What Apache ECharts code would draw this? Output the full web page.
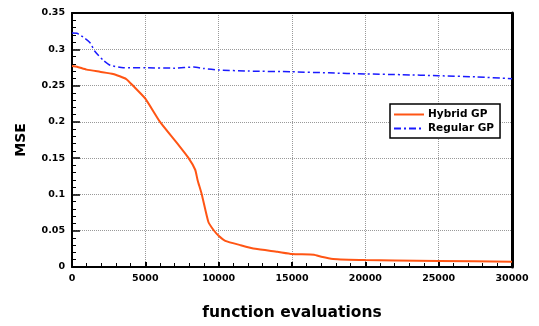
<!DOCTYPE html>
<html>
<head>
<meta charset="utf-8">
<script src="https://cdn.jsdelivr.net/npm/echarts@6/dist/echarts.min.js"></script>
<style>html,body{margin:0;padding:0;background:#fff;}#c{width:539px;height:326px;}</style>
</head>
<body>
<div id="c"></div>
<script>
const hybridX = [0, 340, 1000, 1900, 2800, 3700, 4200, 5000, 6000, 7150, 7950, 8400, 8560, 8850, 9300, 9650, 10000, 10450, 11500, 12500, 14000, 15000, 16500, 17000, 17800, 20000, 22000, 25000, 30000];
const hybridY = [0.277, 0.276, 0.272, 0.269, 0.266, 0.259, 0.249, 0.232, 0.200, 0.171, 0.150, 0.134, 0.120, 0.100, 0.062, 0.051, 0.043, 0.036, 0.030, 0.025, 0.021, 0.018, 0.017, 0.014, 0.011, 0.0095, 0.009, 0.0083, 0.0073];
const regularX = [0, 340, 890, 1230, 1570, 2120, 2600, 3500, 5000, 7000, 8300, 9000, 10000, 12000, 15000, 17500, 20000, 22500, 25000, 27500, 30000];
const regularY = [0.3225, 0.322, 0.315, 0.309, 0.297, 0.285, 0.278, 0.2746, 0.2745, 0.274, 0.2755, 0.2735, 0.2715, 0.270, 0.269, 0.2675, 0.266, 0.265, 0.2636, 0.262, 0.2595];
const xTicks = [0, 5000, 10000, 15000, 20000, 25000, 30000];
const yTicks = [0, 0.05, 0.1, 0.15, 0.2, 0.25, 0.3, 0.35];
const seriesNames = ['Hybrid GP', 'Regular GP'];

const FONT = 'DejaVu Sans';
const chart = echarts.init(document.getElementById('c'), null, {renderer: 'canvas'});
const zip = (xs, ys) => xs.map((x, i) => [x, ys[i]]);

chart.setOption({
  animation: false,
  backgroundColor: '#fff',
  grid: {left: 72, top: 13, width: 440, height: 254, containLabel: false},
  legend: {
    left: 390, top: 104, orient: 'vertical',
    backgroundColor: '#fff', borderColor: '#000', borderWidth: 1.5,
    padding: [5, 6, 4, 3], itemWidth: 30, itemHeight: 8, itemGap: 3,
    itemStyle: {opacity: 0},
    textStyle: {fontFamily: FONT, fontWeight: 'bold', fontSize: 10.5, color: '#000', padding: [0, 0, 0, -1]},
    data: seriesNames
  },
  xAxis: [{
    type: 'value', min: xTicks[0], max: xTicks[xTicks.length - 1], interval: 5000,
    name: 'function evaluations', nameLocation: 'middle', nameGap: 38,
    nameTextStyle: {fontFamily: FONT, fontWeight: 'bold', fontSize: 15.5, color: '#000'},
    axisLine: {lineStyle: {color: '#000', width: 2}},
    axisTick: {inside: true, length: 5, lineStyle: {color: '#000', width: 2}},
    minorTick: {show: true, splitNumber: 5, length: 4, lineStyle: {color: '#000', width: 1}},
    axisLabel: {fontFamily: FONT, fontWeight: 'bold', fontSize: 9.5, color: '#000', margin: 7,
      formatter: v => String(v)},
    splitLine: {show: true, lineStyle: {color: '#999', type: 'dotted', width: 1}}
  }, {
    type: 'value', position: 'top', min: 0, max: 30000,
    axisLine: {show: true, onZero: false, lineStyle: {color: '#000', width: 2}},
    axisTick: {show: false}, axisLabel: {show: false}, splitLine: {show: false}
  }],
  yAxis: [{
    type: 'value', min: yTicks[0], max: yTicks[yTicks.length - 1], interval: 0.05,
    name: 'MSE', nameLocation: 'middle', nameGap: 44, nameRotate: 90,
    nameTextStyle: {fontFamily: FONT, fontWeight: 'bold', fontSize: 14, color: '#000'},
    axisLine: {show: true, lineStyle: {color: '#000', width: 2}},
    axisTick: {show: true, inside: true, length: 8, lineStyle: {color: '#000', width: 1.5}},
    minorTick: {show: true, splitNumber: 5, length: 4, lineStyle: {color: '#000', width: 1}},
    axisLabel: {fontFamily: FONT, fontWeight: 'bold', fontSize: 9.5, color: '#000', margin: 7,
      formatter: v => String(Math.round(v * 100) / 100)},
    splitLine: {show: true, lineStyle: {color: '#999', type: 'dotted', width: 1}}
  }, {
    type: 'value', position: 'right', min: 0, max: 0.35,
    axisLine: {show: true, onZero: false, lineStyle: {color: '#000', width: 3}},
    axisTick: {show: false}, axisLabel: {show: false}, splitLine: {show: false}
  }],
  series: [{
    name: seriesNames[0], type: 'line', xAxisIndex: 0, yAxisIndex: 0,
    data: zip(hybridX, hybridY), symbol: 'none', smooth: 0.15,
    lineStyle: {color: '#ff5514', width: 2}, itemStyle: {color: '#ff5514'}
  }, {
    name: seriesNames[1], type: 'line', xAxisIndex: 0, yAxisIndex: 0,
    data: zip(regularX, regularY), symbol: 'none', smooth: 0.2,
    lineStyle: {color: '#1a1aff', width: 1.5, type: [7, 3, 2, 3]}, itemStyle: {color: '#1a1aff'}
  }]
});
</script>
</body>
</html>
